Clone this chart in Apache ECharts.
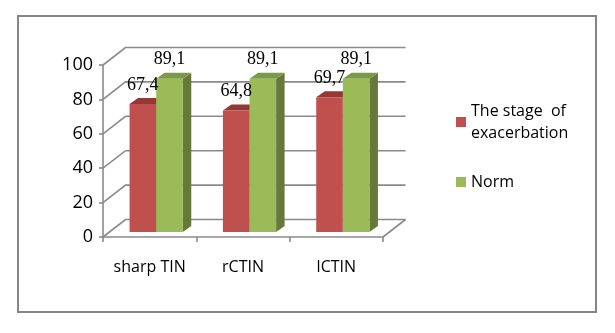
<!DOCTYPE html>
<html>
<head>
<meta charset="utf-8">
<script src="https://cdn.jsdelivr.net/npm/echarts@6/dist/echarts.min.js"></script>
<style>
  html, body { margin: 0; padding: 0; background: #fff; }
  #chart { width: 615px; height: 333px; }
</style>
</head>
<body>
<div id="chart"></div>
<script>
// data
const categories = ["sharp TIN", "rCTIN", "lCTIN"];
// bar heights as drawn (the printed labels differ from the drawn red heights)
const exacerbation = [74.4, 70.6, 78.4];
const exacerbationLabels = ["67,4", "64,8", "69,7"];
const norm = [89.1, 89.1, 89.1];
const normLabels = ["89,1", "89,1", "89,1"];
const yTicks = [0, 20, 40, 60, 80, 100];

// fake 3D look
const WALL = [22.5, -17.5];   // depth of the back wall
const FRONT = [6.5, -5];      // bar front face offset from axis plane
const BAR_DEPTH = [8.5, -6];  // bar depth
const GRAY = "#8a8a8a";

function barRenderer(colors, labels, side, layer) {
  return function (params, api) {
    const idx = api.value(0);
    const bandW = api.size([1, 0])[0];
    const bw = bandW * 0.285;
    const base = api.coord([idx, 0]);
    const top = api.coord([idx, api.value(1)]);
    const x0 = base[0] + FRONT[0] + (side < 0 ? -bw : 0);
    const yb = base[1] + FRONT[1];
    const yt = top[1] + FRONT[1];
    const dx = BAR_DEPTH[0], dy = BAR_DEPTH[1];
    return {
      type: "group",
      children: [
        {
          type: "polygon",
          z2: layer,
          shape: { points: [[x0 + bw, yt], [x0 + bw + dx, yt + dy], [x0 + bw + dx, yb + dy], [x0 + bw, yb]] },
          style: { fill: colors.side }
        },
        {
          type: "polygon",
          z2: layer,
          shape: { points: [[x0, yt], [x0 + dx, yt + dy], [x0 + bw + dx, yt + dy], [x0 + bw, yt]] },
          style: { fill: colors.top }
        },
        {
          type: "rect",
          z2: layer,
          shape: { x: x0, y: yt, width: bw, height: yb - yt },
          style: { fill: colors.front }
        },
        {
          type: "text",
          z2: 50,
          x: x0 + bw / 2,
          y: yt + dy - 4,
          style: {
            text: labels[params.dataIndex],
            align: "center",
            verticalAlign: "bottom",
            fill: "#000",
            font: "18px 'Liberation Serif'"
          }
        }
      ]
    };
  };
}

function wallRenderer(params, api) {
  const cs = params.coordSys;
  const p = api.coord([0, api.value(1)]);
  const x0 = cs.x, y = p[1];
  const children = [{
    type: "polyline",
    shape: { points: [[x0, y], [x0 + WALL[0], y + WALL[1]], [x0 + cs.width + WALL[0], y + WALL[1]]] },
    style: { stroke: GRAY, lineWidth: 1.6, fill: null }
  }];
  if (api.value(1) === 0) {
    children.push({
      type: "line",
      shape: { x1: x0 + cs.width, y1: y, x2: x0 + cs.width + WALL[0], y2: y + WALL[1] },
      style: { stroke: GRAY, lineWidth: 1.6 }
    });
  }
  return { type: "group", children: children };
}

const chart = echarts.init(document.getElementById("chart"));
chart.setOption({
  animation: false,
  graphic: [{
    type: "rect",
    shape: { x: 18, y: 16, width: 578, height: 296 },
    style: { fill: null, stroke: "#868686", lineWidth: 2 }
  }],
  grid: { left: 103, right: 232, top: 65, bottom: 96 },
  legend: [
    {
      data: ["The stage  of exacerbation"],
      orient: "vertical",
      left: 456,
      top: 89,
      padding: 0,
      icon: "rect",
      itemWidth: 10,
      itemHeight: 10,
      formatter: function () { return "The stage  of\nexacerbation"; },
      textStyle: {
        fontFamily: "Open Sans",
        fontSize: 16,
        lineHeight: 22,
        color: "#000",
        padding: [22, 0, 0, 0]
      }
    },
    {
      data: ["Norm"],
      orient: "vertical",
      left: 456,
      top: 174,
      padding: 0,
      icon: "rect",
      itemWidth: 10,
      itemHeight: 10,
      textStyle: { fontFamily: "Open Sans", fontSize: 16, color: "#000" }
    }
  ],
  xAxis: {
    type: "category",
    data: categories,
    axisLine: { lineStyle: { color: GRAY, width: 1.6 } },
    axisTick: { show: true, length: 5, lineStyle: { color: GRAY, width: 1.6 } },
    axisLabel: { interval: 0, margin: 22, fontFamily: "Open Sans", fontSize: 16, color: "#000" }
  },
  yAxis: {
    type: "value",
    min: 0,
    max: 100,
    interval: 20,
    axisLine: { show: true, lineStyle: { color: GRAY, width: 1.6 } },
    axisTick: { show: true, length: 4, lineStyle: { color: GRAY, width: 1.6 } },
    splitLine: { show: false },
    axisLabel: { margin: 10, fontFamily: "Open Sans", fontSize: 18, color: "#000" }
  },
  series: [
    {
      type: "custom",
      name: "walls",
      silent: true,
      clip: false,
      renderItem: wallRenderer,
      data: yTicks.map(function (v) { return [0, v]; }),
      z: 1
    },
    {
      type: "custom",
      name: "The stage  of exacerbation",
      clip: false,
      itemStyle: { color: "#C0504D" },
      renderItem: barRenderer({ front: "#C0504D", top: "#953735", side: "#8C3836" }, exacerbationLabels, -1, 1),
      data: exacerbation.map(function (v, i) { return [i, v]; }),
      z: 2
    },
    {
      type: "custom",
      name: "Norm",
      clip: false,
      itemStyle: { color: "#9BBB59" },
      renderItem: barRenderer({ front: "#9BBB59", top: "#7A9A45", side: "#66793A" }, normLabels, 1, 2),
      data: norm.map(function (v, i) { return [i, v]; }),
      z: 2
    }
  ]
});
</script>
</body>
</html>
